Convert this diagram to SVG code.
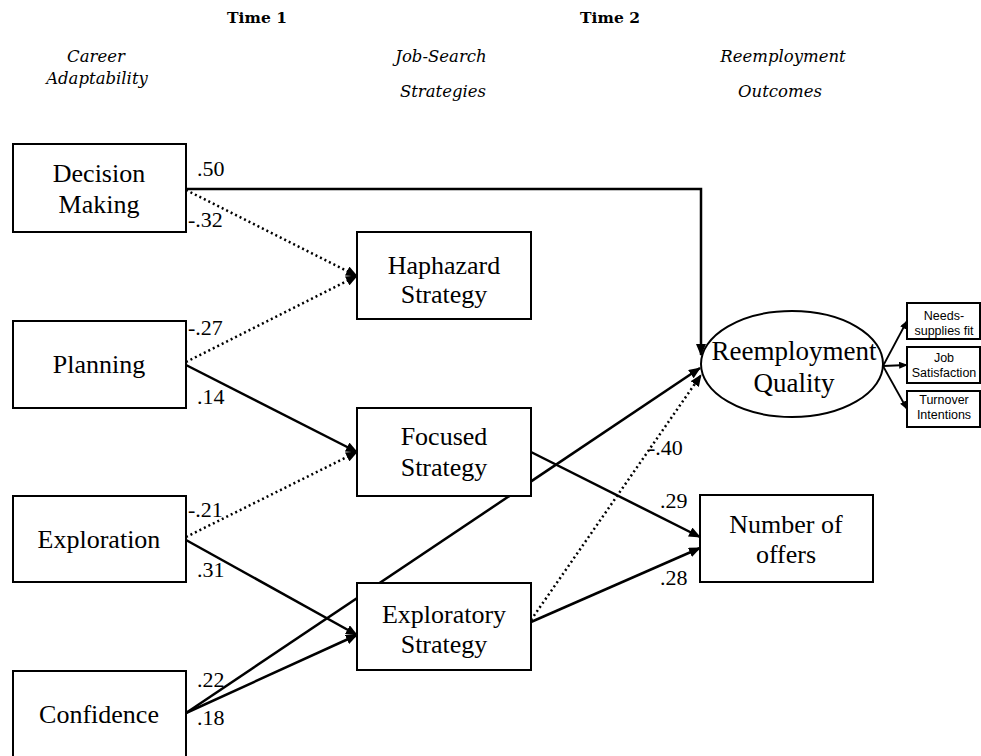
<svg xmlns="http://www.w3.org/2000/svg" width="981" height="756" viewBox="0 0 981 756">
<defs>
<style>
.box{fill:#fff;stroke:#000;stroke-width:2}
.lbl{font-family:'Liberation Serif','Tinos','Times New Roman','DejaVu Serif',serif;font-size:26px;fill:#000;text-anchor:middle}
.num{font-family:'Liberation Serif','Tinos','Times New Roman','DejaVu Serif',serif;font-size:22px;fill:#000}
.hdr{font-family:'DejaVu Serif','Liberation Serif',serif;font-size:15.5px;font-weight:bold;fill:#000;text-anchor:middle}
.sub{font-family:'DejaVu Serif','Liberation Serif',serif;font-size:16.5px;font-style:italic;fill:#000;text-anchor:middle}
.sm{font-family:'Liberation Sans',Arial,sans-serif;font-size:12.5px;fill:#000;text-anchor:middle}
.solid{fill:none;stroke:#000;stroke-width:2.5}
.dot{fill:none;stroke:#000;stroke-width:2.5;stroke-dasharray:2 3}
.thin{fill:none;stroke:#000;stroke-width:1.8}
</style>
<marker id="ah" viewBox="0 0 12 10" refX="11" refY="5" markerWidth="12" markerHeight="10" markerUnits="userSpaceOnUse" orient="auto">
<path d="M0,0 L12,5 L0,10 z" fill="#000"/>
</marker>
<marker id="ahs" viewBox="0 0 10 8" refX="9" refY="4" markerWidth="9" markerHeight="7" markerUnits="userSpaceOnUse" orient="auto">
<path d="M0,0 L10,4 L0,8 z" fill="#000"/>
</marker>
</defs>
<rect width="981" height="756" fill="#fff"/>

<g id="headers">
<text class="hdr" x="257" y="23">Time 1</text>
<text class="hdr" x="610" y="23">Time 2</text>
<text class="sub" x="96" y="62">Career</text>
<text class="sub" x="97" y="84">Adaptability</text>
<text class="sub" x="441" y="62">Job-Search</text>
<text class="sub" x="443" y="97">Strategies</text>
<text class="sub" x="783" y="62">Reemployment</text>
<text class="sub" x="780" y="97">Outcomes</text>
</g>

<g id="connectors">
<path class="solid" d="M186,189 L701,189 L701,355" marker-end="url(#ah)"/>
<line class="dot" x1="186" y1="190" x2="357" y2="276" marker-end="url(#ah)"/>
<line class="dot" x1="186" y1="362" x2="357" y2="276" marker-end="url(#ah)"/>
<line class="solid" x1="186" y1="365" x2="357" y2="452" marker-end="url(#ah)"/>
<line class="dot" x1="186" y1="537" x2="357" y2="452" marker-end="url(#ah)"/>
<line class="solid" x1="186" y1="540" x2="357" y2="635" marker-end="url(#ah)"/>
<line class="solid" x1="186" y1="713" x2="357" y2="635" marker-end="url(#ah)"/>
<line class="solid" x1="186" y1="713" x2="700" y2="368" marker-end="url(#ah)"/>
<line class="solid" x1="531" y1="452" x2="700" y2="537" marker-end="url(#ah)"/>
<line class="solid" x1="531" y1="622" x2="700" y2="548" marker-end="url(#ah)"/>
<line class="dot" x1="531" y1="620" x2="701" y2="375" marker-end="url(#ah)"/>
<line class="thin" x1="883" y1="366" x2="907" y2="321" marker-end="url(#ahs)"/>
<line class="thin" x1="883" y1="366" x2="907" y2="365" marker-end="url(#ahs)"/>
<line class="thin" x1="883" y1="366" x2="907" y2="409" marker-end="url(#ahs)"/>
<text class="num" x="197" y="176">.50</text>
<text class="num" x="188" y="227">-.32</text>
<text class="num" x="188" y="335">-.27</text>
<text class="num" x="197" y="404">.14</text>
<text class="num" x="188" y="517">-.21</text>
<text class="num" x="197" y="577">.31</text>
<text class="num" x="197" y="687">.22</text>
<text class="num" x="197" y="725">.18</text>
<text class="num" x="648" y="455">-.40</text>
<text class="num" x="660" y="508">.29</text>
<text class="num" x="660" y="585">.28</text>
</g>

<g id="decision-making">
<rect class="box" x="13" y="144" width="173" height="88"/>
<text class="lbl" x="99" y="182">Decision</text>
<text class="lbl" x="99" y="213">Making</text>
</g>
<g id="planning">
<rect class="box" x="13" y="321" width="173" height="87"/>
<text class="lbl" x="99" y="373">Planning</text>
</g>
<g id="exploration">
<rect class="box" x="13" y="496" width="173" height="86"/>
<text class="lbl" x="99" y="548">Exploration</text>
</g>
<g id="confidence">
<rect class="box" x="13" y="671" width="173" height="90"/>
<text class="lbl" x="99" y="723">Confidence</text>
</g>
<g id="haphazard-strategy">
<rect class="box" x="357" y="232" width="174" height="87"/>
<text class="lbl" x="444" y="274">Haphazard</text>
<text class="lbl" x="444" y="303">Strategy</text>
</g>
<g id="focused-strategy">
<rect class="box" x="357" y="408" width="174" height="88"/>
<text class="lbl" x="444" y="445">Focused</text>
<text class="lbl" x="444" y="476">Strategy</text>
</g>
<g id="exploratory-strategy">
<rect class="box" x="357" y="583" width="174" height="87"/>
<text class="lbl" x="444" y="623">Exploratory</text>
<text class="lbl" x="444" y="653">Strategy</text>
</g>
<g id="reemployment-quality">
<ellipse cx="792" cy="364" rx="91" ry="53" fill="none" stroke="#000" stroke-width="2"/>
<text class="lbl" x="794" y="360" style="font-size:27px">Reemployment</text>
<text class="lbl" x="794" y="392" style="font-size:27px">Quality</text>
</g>
<g id="number-of-offers">
<rect class="box" x="700" y="495" width="173" height="87"/>
<text class="lbl" x="786" y="533">Number of</text>
<text class="lbl" x="786" y="563">offers</text>
</g>
<g id="needs-supplies-fit">
<rect class="box" x="907" y="303" width="73" height="36"/>
<text class="sm" x="944" y="320">Needs-</text>
<text class="sm" x="944" y="335">supplies fit</text>
</g>
<g id="job-satisfaction">
<rect class="box" x="907" y="347" width="73" height="36"/>
<text class="sm" x="944" y="362">Job</text>
<text class="sm" x="944" y="377">Satisfaction</text>
</g>
<g id="turnover-intentions">
<rect class="box" x="907" y="391" width="73" height="36"/>
<text class="sm" x="944" y="404">Turnover</text>
<text class="sm" x="944" y="419">Intentions</text>
</g>
</svg>
